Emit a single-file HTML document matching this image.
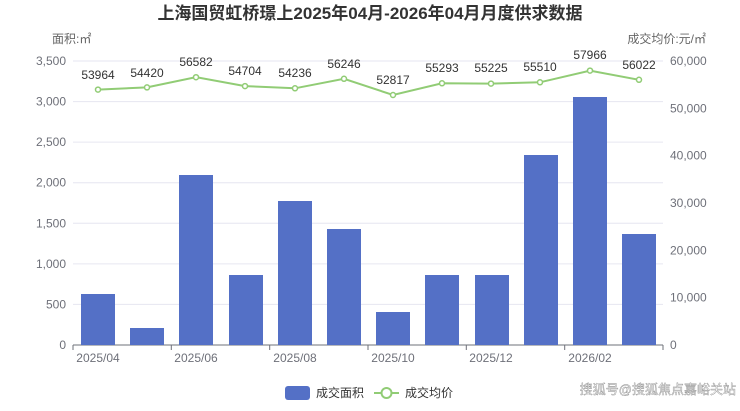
<!DOCTYPE html>
<html><head><meta charset="utf-8"><style>
body{margin:0;background:#fff;}
svg text{font-family:"Liberation Sans","Noto Sans CJK SC",sans-serif;}
</style></head><body>
<svg width="740" height="406" xmlns="http://www.w3.org/2000/svg">
<text x="370" y="19" text-anchor="middle" font-size="17" font-weight="bold" fill="#333">上海国贸虹桥璟上2025年04月-2026年04月月度供求数据</text>
<text x="52" y="43" font-size="12" fill="#666">面积:㎡</text>
<text x="706" y="43" font-size="12" fill="#666" text-anchor="end">成交均价:元/㎡</text>
<g stroke="#e6e6f0" stroke-width="1">
<line x1="73" x2="663" y1="61" y2="61"/><line x1="73" x2="663" y1="101.6" y2="101.6"/><line x1="73" x2="663" y1="142.1" y2="142.1"/><line x1="73" x2="663" y1="182.7" y2="182.7"/><line x1="73" x2="663" y1="223.3" y2="223.3"/><line x1="73" x2="663" y1="263.9" y2="263.9"/><line x1="73" x2="663" y1="304.4" y2="304.4"/>
</g>
<line x1="73" x2="663" y1="345" y2="345" stroke="#6e7079"/>
<g font-size="12" fill="#6e7079" text-anchor="end">
<text x="66" y="65">3,500</text><text x="66" y="105.6">3,000</text><text x="66" y="146">2,500</text><text x="66" y="186.7">2,000</text><text x="66" y="227.3">1,500</text><text x="66" y="268">1,000</text><text x="66" y="308.4">500</text><text x="66" y="349">0</text>
</g>
<g font-size="12" fill="#6e7079" text-anchor="start">
<text x="670" y="65">60,000</text><text x="670" y="112.3">50,000</text><text x="670" y="159.7">40,000</text><text x="670" y="207">30,000</text><text x="670" y="254.3">20,000</text><text x="670" y="301.7">10,000</text><text x="670" y="349">0</text>
</g>
<g fill="#5470c6">
<rect x="81" y="294" width="34" height="51"/>
<rect x="130" y="328" width="34" height="17"/>
<rect x="179" y="175" width="34" height="170"/>
<rect x="229" y="275" width="34" height="70"/>
<rect x="278" y="201" width="34" height="144"/>
<rect x="327" y="229" width="34" height="116"/>
<rect x="376" y="312" width="34" height="33"/>
<rect x="425" y="275" width="34" height="70"/>
<rect x="475" y="275" width="34" height="70"/>
<rect x="524" y="155" width="34" height="190"/>
<rect x="573" y="97" width="34" height="248"/>
<rect x="622" y="234" width="34" height="111"/>
</g>
<g stroke="#6e7079">
<line x1="73" x2="73" y1="345" y2="350"/><line x1="171.3" x2="171.3" y1="345" y2="350"/><line x1="269.7" x2="269.7" y1="345" y2="350"/><line x1="368" x2="368" y1="345" y2="350"/><line x1="466.3" x2="466.3" y1="345" y2="350"/><line x1="564.7" x2="564.7" y1="345" y2="350"/><line x1="663" x2="663" y1="345" y2="350"/>
</g>
<g font-size="12" fill="#6e7079" text-anchor="middle">
<text x="98" y="362">2025/04</text><text x="196" y="362">2025/06</text><text x="295" y="362">2025/08</text><text x="393" y="362">2025/10</text><text x="491" y="362">2025/12</text><text x="590" y="362">2026/02</text>
</g>
<polyline fill="none" stroke="#91cc75" stroke-width="2" points="98,89.6 147,87.4 196,77.2 245,86.1 295,88.3 344,78.8 393,95 442,83.3 491,83.6 540,82.3 590,70.6 639,79.8"/>
<g fill="#fff" stroke="#91cc75" stroke-width="1.5">
<circle cx="98" cy="89.6" r="2.5"/><circle cx="147" cy="87.4" r="2.5"/><circle cx="196" cy="77.2" r="2.5"/><circle cx="245" cy="86.1" r="2.5"/><circle cx="295" cy="88.3" r="2.5"/><circle cx="344" cy="78.8" r="2.5"/><circle cx="393" cy="95" r="2.5"/><circle cx="442" cy="83.3" r="2.5"/><circle cx="491" cy="83.6" r="2.5"/><circle cx="540" cy="82.3" r="2.5"/><circle cx="590" cy="70.6" r="2.5"/><circle cx="639" cy="79.8" r="2.5"/>
</g>
<g font-size="12" fill="#333" text-anchor="middle">
<text x="98" y="79">53964</text><text x="147" y="77">54420</text><text x="196" y="66">56582</text><text x="245" y="75">54704</text><text x="295" y="77">54236</text><text x="344" y="68">56246</text><text x="393" y="84">52817</text><text x="442" y="72">55293</text><text x="491" y="72">55225</text><text x="540" y="71">55510</text><text x="590" y="59">57966</text><text x="639" y="69">56022</text>
</g>
<rect x="285" y="386" width="25" height="14" rx="3" fill="#5470c6"/>
<text x="316" y="397" font-size="12" fill="#333">成交面积</text>
<line x1="374" x2="399" y1="393" y2="393" stroke="#91cc75" stroke-width="2"/>
<circle cx="386.5" cy="393" r="5" fill="#fff" stroke="#91cc75" stroke-width="2"/>
<text x="405" y="397" font-size="12" fill="#333">成交均价</text>
<text x="736" y="394" font-size="13" fill="#fff" stroke="#888" stroke-width="0.4" text-anchor="end">搜狐号@搜狐焦点嘉峪关站</text>
</svg>
</body></html>
